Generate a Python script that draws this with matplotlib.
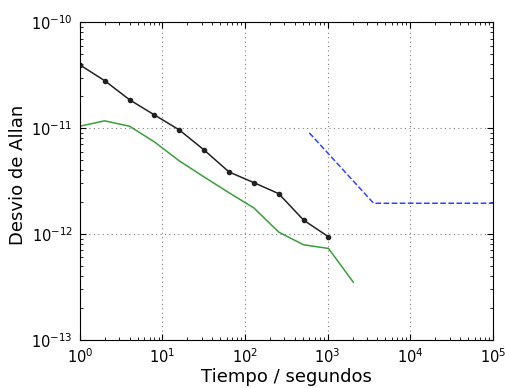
import matplotlib
matplotlib.use("Agg")
import matplotlib.pyplot as plt

plt.rcParams['mathtext.default'] = 'regular'

# Allan deviation data (tau in seconds)
tau_medido = [1, 2, 4, 8, 16, 32, 64, 128, 256, 512, 1024]
adev_medido = [3.95e-11, 2.8e-11, 1.85e-11, 1.33e-11, 9.6e-12, 6.2e-12,
               3.85e-12, 3.05e-12, 2.4e-12, 1.35e-12, 9.4e-13]

tau_ref = [1, 2, 4, 8, 16, 32, 64, 128, 256, 512, 1024, 2048]
adev_ref = [1.04e-11, 1.17e-11, 1.04e-11, 7.4e-12, 4.9e-12, 3.45e-12,
            2.45e-12, 1.76e-12, 1.04e-12, 7.9e-13, 7.3e-13, 3.5e-13]

tau_espec = [600, 3600, 1e5]
adev_espec = [9.0e-12, 1.95e-12, 1.95e-12]

fig = plt.figure(figsize=(5.05, 3.88), dpi=100)
ax = fig.add_axes([0.158, 0.124, 0.818, 0.819])

ax.loglog(tau_medido, adev_medido, color='#222222', marker='o', markersize=3, linewidth=1.1)
ax.loglog(tau_ref, adev_ref, color='#3a9e3a', linewidth=1.1)
ax.loglog(tau_espec, adev_espec, color='#3344ff', linestyle='--', linewidth=1.1)

ax.set_xlim(1, 1e5)
ax.set_ylim(1e-13, 1e-10)
ax.set_xlabel("Tiempo / segundos", fontsize=13, labelpad=2)
ax.set_ylabel("Desvio de Allan", fontsize=13)
ax.yaxis.set_label_coords(-0.128, 0.52)

ax.grid(True, which='major', linestyle=(0, (1, 3)), color='gray', linewidth=0.8)
ax.tick_params(which='both', direction='in', top=True, right=True, labelsize=10.5)
ax.tick_params(which='major', length=4, pad=5)
ax.tick_params(which='minor', length=2)

plt.savefig("out.png", dpi=100)
